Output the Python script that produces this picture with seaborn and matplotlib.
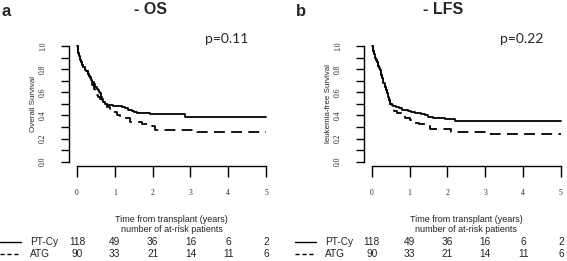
import numpy as np
import pandas as pd
import matplotlib
matplotlib.use("Agg")
import matplotlib.pyplot as plt
import matplotlib.transforms as mtransforms
from matplotlib.lines import Line2D
import seaborn as sns

# ---------------- data ----------------
groups = ["PT-Cy", "ATG"]
years = [0, 1, 2, 3, 4, 5]

os_ptcy_t = [0, 0.02, 0.04, 0.06, 0.08, 0.11, 0.14, 0.17, 0.21, 0.24, 0.28, 0.31, 0.34, 0.37, 0.41,
             0.45, 0.48, 0.52, 0.55, 0.58, 0.61, 0.64, 0.67, 0.70, 0.74, 0.79, 0.95, 1.14, 1.20, 1.28,
             1.35, 1.45, 1.52, 1.58, 1.93, 2.86, 5.0]
os_ptcy_s = [1.0, 0.97, 0.94, 0.91, 0.88, 0.86, 0.84, 0.82, 0.79, 0.78, 0.76, 0.74, 0.73, 0.71, 0.69,
             0.67, 0.65, 0.63, 0.62, 0.60, 0.59, 0.56, 0.54, 0.52, 0.50, 0.49, 0.485, 0.48, 0.47, 0.46,
             0.45, 0.44, 0.43, 0.42, 0.41, 0.385, 0.385]

os_atg_t = [0, 0.02, 0.04, 0.06, 0.08, 0.11, 0.14, 0.17, 0.21, 0.24, 0.28, 0.31, 0.34, 0.37, 0.41,
            0.45, 0.48, 0.52, 0.56, 0.60, 0.65, 0.70, 0.79, 0.87, 0.96, 1.05, 1.14, 1.40, 1.71, 1.93,
            2.06, 3.17, 5.0]
os_atg_s = [1.0, 0.97, 0.94, 0.91, 0.88, 0.86, 0.84, 0.82, 0.79, 0.78, 0.76, 0.74, 0.72, 0.69, 0.66,
            0.63, 0.605, 0.58, 0.56, 0.54, 0.52, 0.50, 0.475, 0.45, 0.43, 0.40, 0.375, 0.345, 0.33, 0.31,
            0.274, 0.254, 0.254]

lfs_ptcy_t = [0, 0.02, 0.05, 0.08, 0.11, 0.13, 0.16, 0.19, 0.22, 0.25, 0.28, 0.31, 0.34, 0.37, 0.40,
              0.43, 0.46, 0.49, 0.53, 0.57, 0.65, 0.72, 0.80, 0.95, 1.05, 1.15, 1.30, 1.40, 1.50, 1.62,
              1.75, 1.94, 2.20, 5.0]
lfs_ptcy_s = [1.0, 0.96, 0.93, 0.90, 0.88, 0.86, 0.83, 0.81, 0.79, 0.75, 0.72, 0.68, 0.65, 0.62, 0.59,
              0.56, 0.53, 0.50, 0.49, 0.48, 0.47, 0.46, 0.45, 0.44, 0.43, 0.42, 0.41, 0.40, 0.39, 0.38,
              0.375, 0.366, 0.355, 0.355]

lfs_atg_t = [0, 0.02, 0.05, 0.08, 0.11, 0.13, 0.16, 0.19, 0.22, 0.25, 0.28, 0.31, 0.34, 0.37, 0.40,
             0.43, 0.46, 0.49, 0.53, 0.60, 0.66, 0.77, 0.88, 1.00, 1.10, 1.25, 1.41, 1.55, 2.10, 3.05, 5.0]
lfs_atg_s = [1.0, 0.96, 0.93, 0.90, 0.88, 0.86, 0.83, 0.81, 0.79, 0.75, 0.72, 0.68, 0.65, 0.62, 0.59,
             0.56, 0.53, 0.50, 0.46, 0.44, 0.42, 0.40, 0.38, 0.36, 0.337, 0.325, 0.317, 0.28, 0.256, 0.24, 0.24]

risk_ptcy = [118, 49, 36, 16, 6, 2]
risk_atg = [90, 33, 21, 14, 11, 6]

panels = [
    dict(letter="a", title="- OS", pval="p=0.11", ylabel="Overall Survival",
         curves=[(os_ptcy_t, os_ptcy_s), (os_atg_t, os_atg_s)]),
    dict(letter="b", title="- LFS", pval="p=0.22", ylabel="leukemia-free Survival",
         curves=[(lfs_ptcy_t, lfs_ptcy_s), (lfs_atg_t, lfs_atg_s)]),
]

# ---------------- style ----------------
sns.set_theme(style="white")
plt.rcParams["font.family"] = ["Liberation Sans", "DejaVu Sans"]

W, H = 567, 261
fig = plt.figure(figsize=(W / 100, H / 100), dpi=100)

def fx(px):
    return px / W

def fy(py):
    return 1 - py / H

axes_left_px = [69.4, 364.2]
ax_w_px = 204.2
ax_top_px, ax_bot_px = 41.4, 166.3
letter_x = [2, 296]
title_x = [150, 443]

serif = ["Liberation Serif", "DejaVu Serif"]
linestyles = ["-", (0, (6, 3.5))]
txtcol = "#222222"

for i, p in enumerate(panels):
    L = axes_left_px[i]
    ax = fig.add_axes([fx(L), fy(ax_bot_px), fx(ax_w_px), (ax_bot_px - ax_top_px) / H])
    for g, (t, s) in enumerate(p["curves"]):
        df = pd.DataFrame({"time": t, "surv": s})
        sns.lineplot(data=df, x="time", y="surv", ax=ax, drawstyle="steps-post",
                     estimator=None, sort=False, color="black", lw=1.3,
                     linestyle=linestyles[g])
    ax.set_xlim(-0.2, 5.2)
    ax.set_ylim(-0.04, 1.04)
    for sp in ["top", "right"]:
        ax.spines[sp].set_visible(False)
    ax.spines["left"].set_bounds(0, 1)
    ax.spines["bottom"].set_bounds(0, 5)
    for sp in ["left", "bottom"]:
        ax.spines[sp].set_color("black")
        ax.spines[sp].set_linewidth(1.0)
    ax.set_xticks(years)
    ax.set_xticklabels([str(y) for y in years], fontfamily=serif, fontsize=5.5)
    yt = [0.0, 0.2, 0.4, 0.6, 0.8, 1.0]
    ax.set_yticks(yt)
    ax.set_yticklabels([f"{v:.1f}" for v in yt], fontfamily=serif, fontsize=5.5,
                       rotation=90, va="center")
    ax.set_yticks([0.1, 0.3, 0.5, 0.7, 0.9], minor=True)
    ax.tick_params(axis="x", which="major", direction="out", length=8, width=1.0,
                   color="black", pad=8, bottom=True)
    ax.tick_params(axis="y", which="both", direction="out", length=6, width=1.0,
                   color="black", pad=10, left=True)
    ax.set_xlabel("")
    ax.set_ylabel(p["ylabel"], fontsize=5.8)
    ax.yaxis.set_label_coords(-0.16, 0.5)

    # titles
    fig.text(fx(letter_x[i]), fy(12), p["letter"], fontsize=12,
             fontweight="bold", ha="left", va="center")
    fig.text(fx(title_x[i]), fy(10), p["title"], fontsize=11.5, fontweight="bold",
             ha="center", va="center")
    fig.text(fx(L + 157), fy(39), p["pval"], fontsize=10, ha="center", va="center",
             family=["Lato", "DejaVu Sans"])

    # risk table
    btr = mtransforms.blended_transform_factory(ax.transData, fig.transFigure)
    ax.text(2.5, fy(219), "Time from transplant (years)", transform=btr,
            fontsize=6.5, ha="center", va="center", color=txtcol)
    ax.text(2.5, fy(230), "number of at-risk patients", transform=btr,
            fontsize=6.5, ha="center", va="center", color=txtcol)
    rows = [risk_ptcy, risk_atg]
    rows_y = [242, 254]
    for r, vals in enumerate(rows):
        for x, v in zip(years, vals):
            ax.text(x, fy(rows_y[r]), str(v), transform=btr, fontsize=7.3,
                    ha="center", va="center", color=txtcol)
        lx0 = L - 69.4
        fig.add_artist(Line2D([fx(lx0), fx(lx0 + 21)], [fy(rows_y[r])] * 2,
                              color="black", lw=1.0, linestyle=["-", (0, (3, 2))][r]))
        fig.text(fx(lx0 + 30), fy(rows_y[r]), groups[r], fontsize=7.3,
                 ha="left", va="center", color=txtcol)

fig.savefig("out.png", dpi=100)
